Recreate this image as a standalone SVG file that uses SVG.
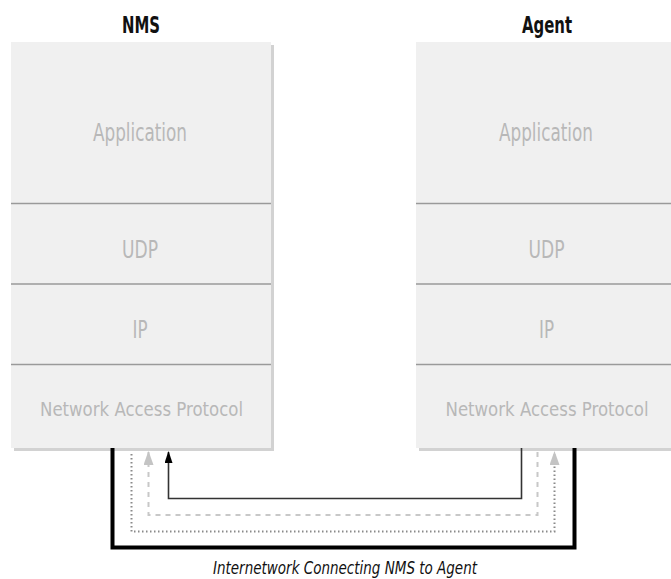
<svg xmlns="http://www.w3.org/2000/svg" width="671" height="579" viewBox="0 0 671 579">
<style>
.box{fill:#f0f0f0}
.shadow{fill:#d2d2d2}
.div{stroke:#9a9a9a;stroke-width:1.6}
.layer{font-family:"DejaVu Sans Condensed","Liberation Sans Narrow","DejaVu Sans",sans-serif;font-size:25px;fill:#b8b8b8;text-anchor:middle}
.nap{font-size:20px}
.head{font-family:"DejaVu Sans Condensed","Liberation Sans Narrow","DejaVu Sans",sans-serif;font-weight:bold;font-size:23px;fill:#111;text-anchor:middle}
.cap{font-family:"DejaVu Sans Condensed","Liberation Sans Narrow","DejaVu Sans",sans-serif;font-style:italic;font-size:18px;fill:#111;text-anchor:middle}
</style>
<defs>
<marker id="ab" markerWidth="12" markerHeight="8" refX="11" refY="4" orient="auto-start-reverse" markerUnits="userSpaceOnUse" viewBox="0 0 12 8"><path d="M12,4 L0,0 L0,8 Z" fill="#000"/></marker>
<marker id="ag" markerWidth="14" markerHeight="10" refX="13" refY="5" orient="auto-start-reverse" markerUnits="userSpaceOnUse" viewBox="0 0 14 10"><path d="M14,5 L0,0 L0,10 Z" fill="#c4c4c4"/></marker>
</defs>
<g id="nms">
<text class="head" x="141" y="33" textLength="38" lengthAdjust="spacingAndGlyphs">NMS</text>
<rect class="shadow" x="14" y="45" width="260" height="406"/>
<rect class="box" x="11" y="42" width="260" height="406"/>
<line class="div" x1="11" y1="203.5" x2="271" y2="203.5"/>
<line class="div" x1="11" y1="284" x2="271" y2="284"/>
<line class="div" x1="11" y1="364.5" x2="271" y2="364.5"/>
<text class="layer" x="140" y="141" textLength="94" lengthAdjust="spacingAndGlyphs">Application</text>
<text class="layer" x="140" y="258" textLength="36" lengthAdjust="spacingAndGlyphs">UDP</text>
<text class="layer" x="140" y="338" textLength="15" lengthAdjust="spacingAndGlyphs">IP</text>
<text class="layer nap" x="141.5" y="416" textLength="203" lengthAdjust="spacingAndGlyphs">Network Access Protocol</text>
</g>
<g id="agent">
<text class="head" x="547" y="33" textLength="50" lengthAdjust="spacingAndGlyphs">Agent</text>
<rect class="shadow" x="419" y="45" width="260" height="406"/>
<rect class="box" x="416" y="42" width="260" height="406"/>
<line class="div" x1="416" y1="203.5" x2="676" y2="203.5"/>
<line class="div" x1="416" y1="284" x2="676" y2="284"/>
<line class="div" x1="416" y1="364.5" x2="676" y2="364.5"/>
<text class="layer" x="546" y="141" textLength="94" lengthAdjust="spacingAndGlyphs">Application</text>
<text class="layer" x="546.5" y="258" textLength="36" lengthAdjust="spacingAndGlyphs">UDP</text>
<text class="layer" x="546.5" y="338" textLength="15" lengthAdjust="spacingAndGlyphs">IP</text>
<text class="layer nap" x="547" y="416" textLength="203" lengthAdjust="spacingAndGlyphs">Network Access Protocol</text>
</g>
<g id="connectors" fill="none">
<path d="M112.5,448 V547.5 H574.5 V448" stroke="#000" stroke-width="4"/>
<path d="M131.5,454 V531.5 H554.5 V452" stroke="#8a8a8a" stroke-width="2" stroke-dasharray="1.5,2.5" marker-end="url(#ag)"/>
<path d="M148.5,452 V515 H537.5 V448" stroke="#c8c8c8" stroke-width="2" stroke-dasharray="5,5" marker-start="url(#ag)"/>
<path d="M521.5,448 V498.5 H168.5 V452" stroke="#333" stroke-width="1.6" marker-end="url(#ab)"/>
</g>
<g id="caption">
<text class="cap" x="345" y="574" textLength="264" lengthAdjust="spacingAndGlyphs">Internetwork Connecting NMS to Agent</text>
</g>
</svg>
